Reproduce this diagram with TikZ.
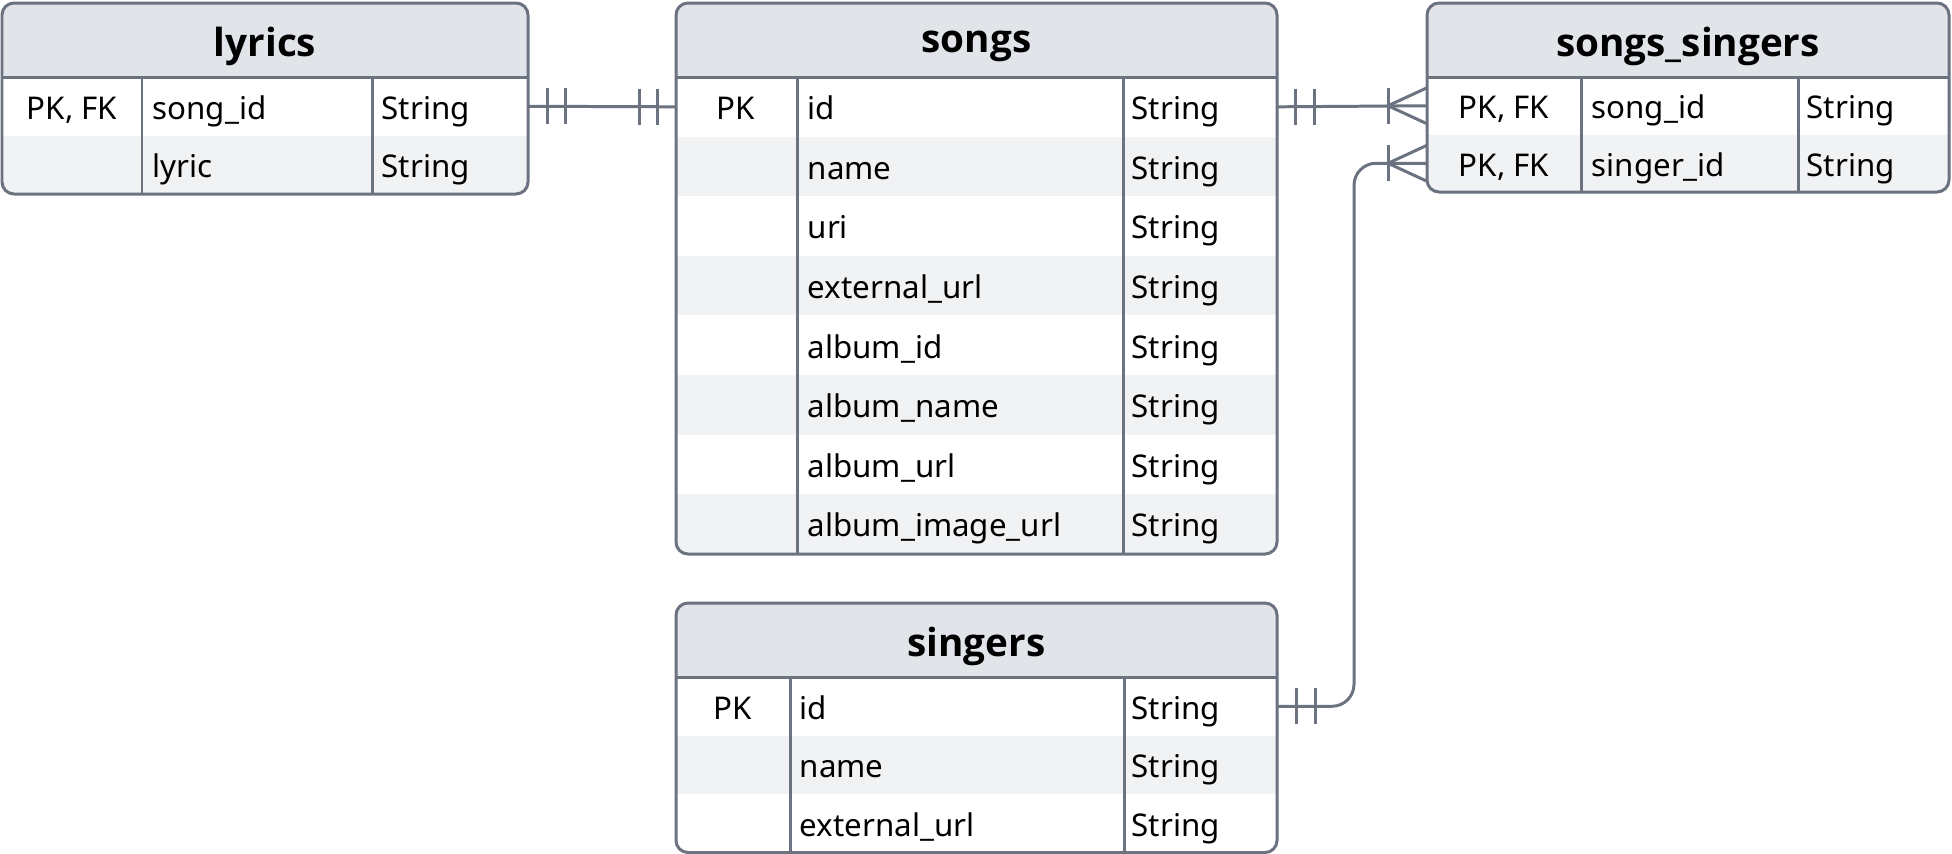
\documentclass[tikz,border=0pt]{standalone}
\usepackage{fontspec}
\setmainfont{Noto Sans}
\newfontfamily\tabfont{Open Sans}
\usetikzlibrary{calc}
\usetikzlibrary{positioning}

\definecolor{erline}{RGB}{107,114,128}
\definecolor{erhead}{RGB}{225,228,233}
\definecolor{errow}{RGB}{241,242,244}

\tikzset{
	tabtitle/.style={font=\tabfont\fontsize{11}{13}\selectfont\bfseries, inner sep=0pt},
	cell/.style={font=\fontsize{8.9}{11}\selectfont, inner sep=0pt, text height=0.72em, text depth=0.22em},
	keycell/.style={cell, anchor=center},
	namecell/.style={cell, anchor=west},
	frame/.style={draw=erline, line width=0.85pt, rounded corners=0.12cm},
	grid/.style={draw=erline, line width=0.85pt},
	link/.style={draw=erline, line width=0.85pt},
}

\begin{document}
\begin{tikzpicture}[x=0.01cm,y=-0.01cm]
		\useasboundingbox (0,0) rectangle (1952,853);

		% lyrics
		\begin{scope}
			\clip[rounded corners=0.12cm] (2,3) rectangle (528,194);
			\fill[erhead] (2,3) rectangle (528,77);
			\fill[errow] (2,135.5) rectangle (528,194);
		\end{scope}
		\draw[grid] (2,77) -- (528,77) (142,77) -- (142,194) (372,77) -- (372,194);
		\draw[frame] (2,3) rectangle (528,194);
		\node[tabtitle] (lyrics) at (265,46) {lyrics};
		\foreach \k/\f [count=\i] in {{PK, FK}/song\_id, /lyric} {
			\node[keycell] (lyrics-k\i) at (72,{81+(\i-0.5)*58.5}) {\k};
			\node[namecell] (lyrics-f\i) at (152,{81+(\i-0.5)*58.5}) {\f};
			\node[namecell] (lyrics-t\i) at (381,{81+(\i-0.5)*58.5}) {String};
			\coordinate (lyrics-l\i) at (2,{77+(\i-0.5)*58.5});
			\coordinate (lyrics-r\i) at (528,{77+(\i-0.5)*58.5});
		}

		% songs
		\begin{scope}
			\clip[rounded corners=0.12cm] (676,3) rectangle (1277,554);
			\fill[erhead] (676,3) rectangle (1277,77);
			\foreach \i in {2,4,6,8}
				\fill[errow] (676,{77+(\i-1)*59.6}) rectangle (1277,{77+\i*59.6});
		\end{scope}
		\draw[grid] (676,77) -- (1277,77) (797,77) -- (797,554) (1123,77) -- (1123,554);
		\draw[frame] (676,3) rectangle (1277,554);
		\node[tabtitle] (songs) at (976.5,46) {songs};
		\foreach \k/\f [count=\i] in {PK/id, /name, /uri, /external\_url, /album\_id, /album\_name, /album\_url, /album\_image\_url} {
			\node[keycell] (songs-k\i) at (736,{81+(\i-0.5)*59.6}) {\k};
			\node[namecell] (songs-f\i) at (807,{81+(\i-0.5)*59.6}) {\f};
			\node[namecell] (songs-t\i) at (1131,{81+(\i-0.5)*59.6}) {String};
			\coordinate (songs-l\i) at (676,{77+(\i-0.5)*59.6});
			\coordinate (songs-r\i) at (1277,{77+(\i-0.5)*59.6});
		}

		% songs_singers
		\begin{scope}
			\clip[rounded corners=0.12cm] (1427,3) rectangle (1949,192);
			\fill[erhead] (1427,3) rectangle (1949,77);
			\fill[errow] (1427,134.5) rectangle (1949,192);
		\end{scope}
		\draw[grid] (1427,77) -- (1949,77) (1581,77) -- (1581,192) (1798,77) -- (1798,192);
		\draw[frame] (1427,3) rectangle (1949,192);
		\node[tabtitle] (ss) at (1688,46) {songs\_singers};
		\foreach \k/\f [count=\i] in {{PK, FK}/song\_id, {PK, FK}/singer\_id} {
			\node[keycell] (ss-k\i) at (1504,{81+(\i-0.5)*57.5}) {\k};
			\node[namecell] (ss-f\i) at (1591,{81+(\i-0.5)*57.5}) {\f};
			\node[namecell] (ss-t\i) at (1806,{81+(\i-0.5)*57.5}) {String};
			\coordinate (ss-l\i) at (1427,{77+(\i-0.5)*57.5});
			\coordinate (ss-r\i) at (1949,{77+(\i-0.5)*57.5});
		}

		% singers
		\begin{scope}
			\clip[rounded corners=0.12cm] (676,603) rectangle (1277,852.5);
			\fill[erhead] (676,603) rectangle (1277,677);
			\fill[errow] (676,735.5) rectangle (1277,794);
		\end{scope}
		\draw[grid] (676,677) -- (1277,677) (790,677) -- (790,852.5) (1124,677) -- (1124,852.5);
		\draw[frame] (676,603) rectangle (1277,852.5);
		\node[tabtitle] (singers) at (976.5,646) {singers};
		\foreach \k/\f [count=\i] in {PK/id, /name, /external\_url} {
			\node[keycell] (singers-k\i) at (733,{681+(\i-0.5)*58.5}) {\k};
			\node[namecell] (singers-f\i) at (799,{681+(\i-0.5)*58.5}) {\f};
			\node[namecell] (singers-t\i) at (1131,{681+(\i-0.5)*58.5}) {String};
			\coordinate (singers-l\i) at (676,{677+(\i-0.5)*58.5});
			\coordinate (singers-r\i) at (1277,{677+(\i-0.5)*58.5});
		}

		% lyrics -- songs (one to one)
		\draw[link] (lyrics-r1) -- (songs-l1);
		\foreach \d in {19,37} {
			\draw[link] ($(lyrics-r1)+(\d,-18)$) -- ++(0,36);
			\draw[link] ($(songs-l1)+(-\d,-18)$) -- ++(0,36);
		}

		% songs -- songs_singers (one to many)
		\draw[link] (songs-r1) -- (ss-l1);
		\foreach \d in {18,37}
			\draw[link] ($(songs-r1)+(\d,-18)$) -- ++(0,36);
		\draw[link] ($(ss-l1)+(-39,-18)$) -- ++(0,36);
		\draw[link] ($(ss-l1)+(0,-18)$) -- ($(ss-l1)+(-39,0)$) -- ($(ss-l1)+(0,18)$);

		% singers -- songs_singers (one to many)
		\draw[link, rounded corners=0.22cm] (singers-r1) -| ($(ss-l2)+(-73,0)$) -- (ss-l2);
		\foreach \d in {19,38}
			\draw[link] ($(singers-r1)+(\d,-18)$) -- ++(0,36);
		\draw[link] ($(ss-l2)+(-39,-18)$) -- ++(0,36);
		\draw[link] ($(ss-l2)+(0,-18)$) -- ($(ss-l2)+(-39,0)$) -- ($(ss-l2)+(0,18)$);
\end{tikzpicture}
\end{document}
